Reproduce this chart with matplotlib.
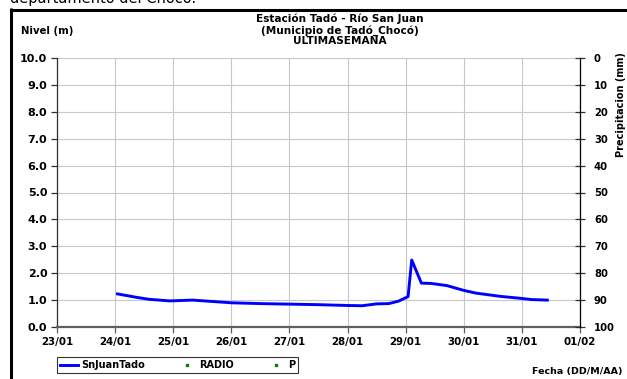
import matplotlib
matplotlib.use("Agg")
import matplotlib.pyplot as plt
import matplotlib.dates as mdates
from matplotlib.lines import Line2D
import pandas as pd

plt.rcParams['font.family'] = ['DejaVu Sans']
plt.rcParams['font.weight'] = 'bold'

# ---- data ----
times = ["2014-01-24 01:00", "2014-01-24 09:00", "2014-01-24 14:00", "2014-01-24 22:30",
         "2014-01-25 08:00", "2014-01-25 16:00", "2014-01-26 00:00", "2014-01-26 12:00",
         "2014-01-27 00:00", "2014-01-27 12:00", "2014-01-28 00:00", "2014-01-28 06:00",
         "2014-01-28 12:00", "2014-01-28 17:00", "2014-01-28 21:00", "2014-01-29 01:00",
         "2014-01-29 02:30", "2014-01-29 04:30", "2014-01-29 06:30", "2014-01-29 10:30",
         "2014-01-29 17:00", "2014-01-30 00:00", "2014-01-30 05:00", "2014-01-30 15:00",
         "2014-01-30 23:00", "2014-01-31 04:00", "2014-01-31 10:30"]
nivel = [1.23, 1.10, 1.03, 0.97,
         1.00, 0.95, 0.90, 0.87,
         0.85, 0.83, 0.80, 0.79,
         0.86, 0.87, 0.96, 1.13,
         2.49, 2.06, 1.63, 1.62,
         1.54, 1.36, 1.26, 1.14,
         1.07, 1.02, 1.00]
radio_times, radio_vals = [], []
p_times, p_vals = [], []

title_lines = ["Estación Tadó - Río San Juan", "(Municipio de Tadó_Chocó)", "ULTIMASEMANA"]
series_names = ["SnJuanTado", "RADIO", "P"]

W, H = 627, 379
fig = plt.figure(figsize=(W / 100, H / 100), dpi=100)
ax = fig.add_axes([57 / W, 1 - 327 / H, (580 - 57) / W, (327 - 58) / H])

t = pd.to_datetime(times)
ax.plot(t, nivel, color='#0000FF', lw=2.1, label=series_names[0], zorder=3)
ax.plot(pd.to_datetime(radio_times), radio_vals, ls='none', marker='s', ms=1.8,
        color='#008000', label=series_names[1])
ax.plot(pd.to_datetime(p_times), p_vals, ls='none', marker='s', ms=1.8,
        color='#008000', label=series_names[2])

ax.set_xlim(pd.Timestamp("2014-01-23"), pd.Timestamp("2014-02-01"))
ax.set_ylim(0, 10)
ax.set_yticks([i for i in range(0, 11)])
ax.set_yticklabels([f"{i:.1f}" for i in range(0, 11)])
ax.xaxis.set_major_locator(mdates.DayLocator())
ax.xaxis.set_major_formatter(mdates.DateFormatter("%d/%m"))
ax.grid(True, color='#c8c8c8', lw=0.8)
ax.set_axisbelow(True)
for s in ['top', 'right']:
    ax.spines[s].set_visible(False)
ax.spines['left'].set_color('#303030')
ax.spines['left'].set_linewidth(0.9)
ax.spines['bottom'].set_color('#606060')
ax.spines['bottom'].set_linewidth(1.6)
ax.tick_params(axis='y', length=4, width=0.9, color='#303030', labelsize=8, pad=3)
ax.tick_params(axis='x', length=4, width=0.9, color='#606060', labelsize=7.4, pad=3)
for lab in ax.get_xticklabels() + ax.get_yticklabels():
    lab.set_fontweight('bold')

ax2 = ax.twinx()
ax2.set_ylim(100, 0)
ax2.set_yticks(list(range(0, 101, 10)))
ax2.tick_params(axis='y', direction='inout', length=7, width=0.9, color='#303030',
                labelsize=7.2, pad=6.5)
for s in ['top', 'left', 'bottom']:
    ax2.spines[s].set_visible(False)
ax2.spines['right'].set_color('black')
ax2.spines['right'].set_linewidth(0.9)
for lab in ax2.get_yticklabels():
    lab.set_fontweight('bold')

# titles and labels
baselines = [22.5, 33.5, 44.0]
for line, b in zip(title_lines, baselines):
    fig.text(339.5 / W, 1 - b / H, line, ha='center', va='baseline',
             fontsize=7.6, fontweight='bold')
fig.text(21 / W, 1 - 34.5 / H, "Nivel (m)", ha='left', va='baseline', fontsize=7.3,
         fontweight='bold')
fig.text(621 / W, 1 - 105 / H, "Precipitacion (mm)", rotation=90, ha='center',
         va='center', fontsize=7, fontweight='bold')
fig.text(623 / W, 1 - 374 / H, "Fecha (DD/M/AA)", ha='right', va='baseline',
         fontsize=6.8, fontweight='bold')

# partially clipped caption at top
fig.text(10 / W, 1 - 2.5 / H, "departamento del Chocó.", ha='left', va='baseline',
         fontsize=10.5, fontweight='normal')

# outer frame
fig.add_artist(Line2D([10 / W, 1.0], [1 - 9.5 / H, 1 - 9.5 / H], color='black',
                      lw=2.2, transform=fig.transFigure, solid_capstyle='butt'))
fig.add_artist(Line2D([10.5 / W, 10.5 / W], [0, 1 - 8.4 / H], color='black',
                      lw=2.2, transform=fig.transFigure, solid_capstyle='butt'))

leg = ax.legend(loc='lower left', ncol=3, mode='expand',
                bbox_to_anchor=(57 / W, 1 - 373.3 / H, (298 - 57) / W, 16 / H),
                bbox_transform=fig.transFigure, fontsize=7, frameon=True,
                fancybox=False, handlelength=1.9, handletextpad=0.25,
                borderpad=0.3, columnspacing=1.0, borderaxespad=0)
leg.get_frame().set_edgecolor('black')
leg.get_frame().set_linewidth(0.8)
for txt in leg.get_texts():
    txt.set_fontweight('bold')

fig.savefig("out.png", dpi=100)
